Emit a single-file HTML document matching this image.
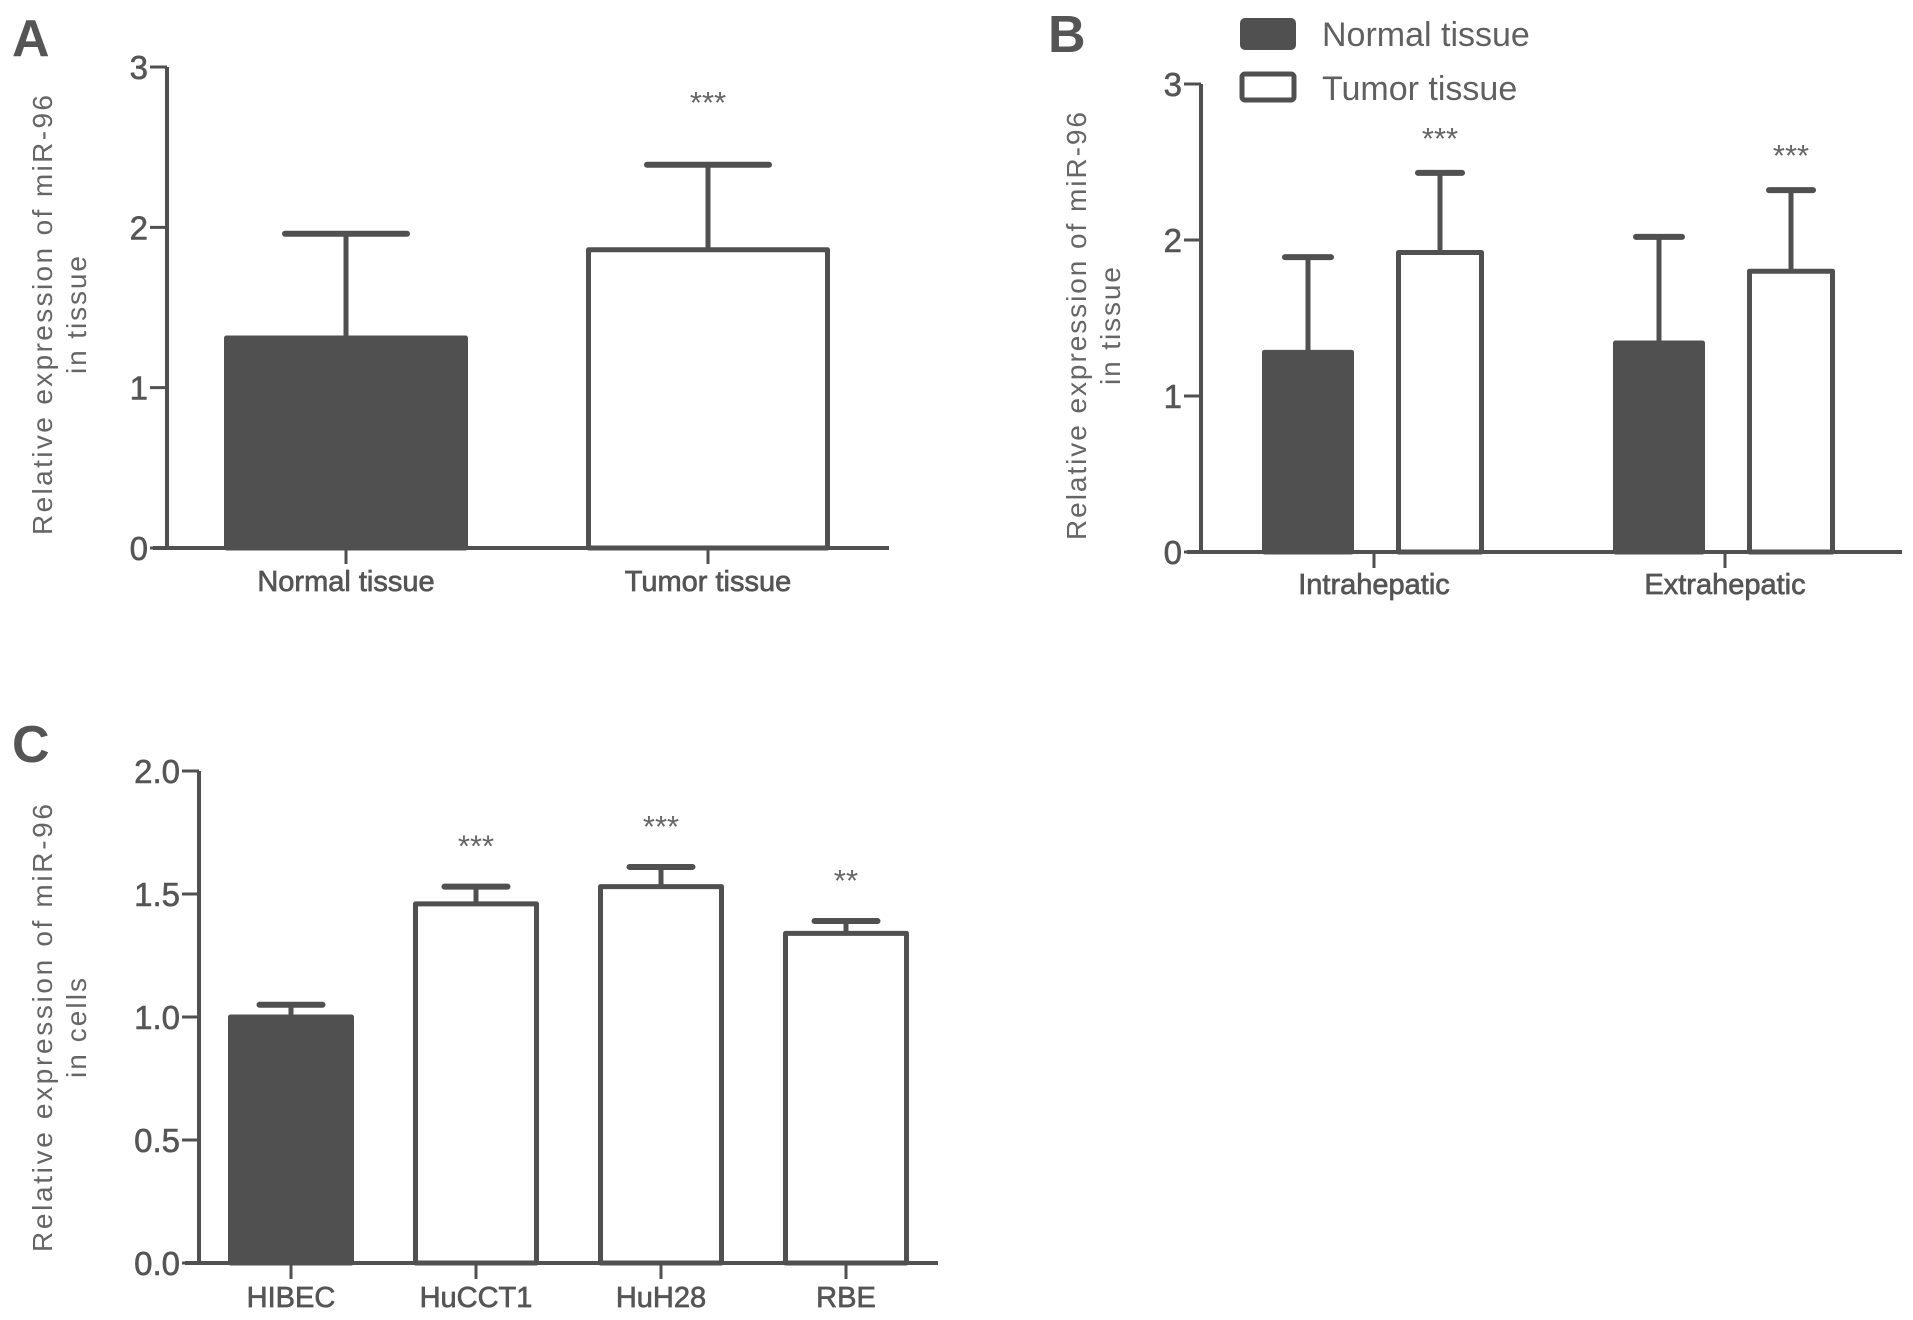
<!DOCTYPE html>
<html><head><meta charset="utf-8"><style>
html,body{margin:0;padding:0;background:#fff;}
svg{display:block;font-family:"Liberation Sans",sans-serif;}
</style></head><body>
<svg id="fig" width="1913" height="1320" viewBox="0 0 1913 1320" xmlns="http://www.w3.org/2000/svg">
<rect width="1913" height="1320" fill="#fff"/>
<text x="12" y="56" font-size="52" font-weight="bold" fill="#555">A</text>
<text x="1048" y="52" font-size="52" font-weight="bold" fill="#555">B</text>
<text x="12" y="762" font-size="52" font-weight="bold" fill="#555">C</text>
<g>
<rect x="1242" y="20" width="52" height="28" rx="3" fill="#505050" stroke="#505050" stroke-width="4"/>
<text x="1322" y="46" font-size="34" fill="#606060">Normal tissue</text>
<rect x="1242" y="74" width="52" height="26" rx="3" fill="#fff" stroke="#505050" stroke-width="5"/>
<text x="1322" y="100" font-size="34" fill="#606060">Tumor tissue</text>
</g>
<g id="pa"></g>
<g id="pb"></g>
<g id="pc"></g>
</svg>
<script>
// Panel A data
const aCategories = ["Normal tissue", "Tumor tissue"];
const aValues = [1.31, 1.86];
const aErrors = [0.65, 0.53];
const aStars = ["", "***"];
const aTicks = ["0", "1", "2", "3"];
const aTickValues = [0, 1, 2, 3];
// Panel B data
const bCategories = ["Intrahepatic", "Extrahepatic"];
const bNormal = [1.28, 1.34];
const bNormalErr = [0.61, 0.68];
const bTumor = [1.92, 1.80];
const bTumorErr = [0.51, 0.52];
const bStars = ["***", "***"];
const bTicks = ["0", "1", "2", "3"];
const bTickValues = [0, 1, 2, 3];
// Panel C data
const cCategories = ["HIBEC", "HuCCT1", "HuH28", "RBE"];
const cValues = [1.00, 1.46, 1.53, 1.34];
const cErrors = [0.05, 0.07, 0.08, 0.05];
const cStars = ["", "***", "***", "**"];
const cTicks = ["0.0", "0.5", "1.0", "1.5", "2.0"];
const cTickValues = [0, 0.5, 1.0, 1.5, 2.0];

const NS = "http://www.w3.org/2000/svg";
const C = "#505050";
function mk(parent, tag, attrs, txt){
  const e = document.createElementNS(NS, tag);
  for (const k in attrs) e.setAttribute(k, attrs[k]);
  if (txt !== undefined) e.textContent = txt;
  parent.appendChild(e);
  return e;
}
function axes(g, o, ticks, tickVals, title1, title2, cats, tickXs){
  const y = v => o.y0 - (v - o.vmin) / (o.vmax - o.vmin) * (o.y0 - o.y1);
  const yl = mk(g, "line", {x1:o.ax, y1:o.y1, x2:o.ax, y2:o.y0, stroke:C, "stroke-width":4});
  
  
  const xl = mk(g, "line", {x1:o.xs, y1:o.y0, x2:o.xe, y2:o.y0, stroke:C, "stroke-width":4});
  
  
  tickVals.forEach((v, i) => {
    const t = mk(g, "line", {x1:o.ax - 17, y1:y(v), x2:o.ax, y2:y(v), stroke:C, "stroke-width":3});
    
    
    const tl = mk(g, "text", {x:o.ax - 19, y:y(v) + 12, "font-size":33, fill:"#555", stroke:"#555", "stroke-width":0.6, "text-anchor":"end"}, ticks[i]);
    
    
  });
  cats.forEach((c, i) => {
    const t = mk(g, "line", {x1:tickXs[i], y1:o.y0, x2:tickXs[i], y2:o.y0 + 16, stroke:C, "stroke-width":3});
    
    
    const tl = mk(g, "text", {x:tickXs[i], y:o.labY, "font-size":29, fill:"#555", stroke:"#555", "stroke-width":0.7, "text-anchor":"middle"}, c);
    
    
  });
  const t1 = mk(g, "text", {transform:`translate(${o.t1x},${o.tcy}) rotate(-90)`, "text-anchor":"middle", "font-size":28, fill:"#666", textLength:o.tlen, lengthAdjust:"spacing"}, title1);
  
  
  const t2 = mk(g, "text", {transform:`translate(${o.t2x},${o.tcy}) rotate(-90)`, "text-anchor":"middle", "font-size":28, fill:"#666", textLength:o.tlen2, lengthAdjust:"spacing"}, title2);
  
  
  return y;
}
function bar(g, y, o, x0, x1, v, err, dark, star, name){
  const yt = y(v), ye = y(v + err), cx = (x0 + x1) / 2, cw = (x1 - x0) * 0.25;
  const wl = mk(g, "line", {x1:cx, y1:yt, x2:cx, y2:ye, stroke:C, "stroke-width":5});
  
  
  const cap = mk(g, "line", {x1:cx - cw, y1:ye, x2:cx + cw, y2:ye, stroke:C, "stroke-width":6, "stroke-linecap":"round"});
  
  
  const r = mk(g, "rect", {x:x0 + 2.5, y:yt, width:x1 - x0 - 5, height:o.y0 - yt, fill:dark ? C : "#fff", stroke:C, "stroke-width":5, "stroke-linejoin":"round"});
  
  
  if (star) {
    const s = mk(g, "text", {x:cx, y:ye - o.starOff, "font-size":31, fill:"#666", "text-anchor":"middle"}, star);
    
    
  }
}
// Panel A
(function(){
  const g = document.getElementById("pa");
  const o = {ax:167, y0:548, y1:67, vmin:0, vmax:3, xs:153, xe:889, labY:591, t1x:52, t2x:86, tcy:315, tlen:440, tlen2:118, starOff:52};
  const centers = [346, 708], w = 244;
  const y = axes(g, o, aTicks, aTickValues, "Relative expression of miR-96", "in tissue", aCategories, centers);
  aValues.forEach((v, i) => bar(g, y, o, centers[i] - w/2, centers[i] + w/2, v, aErrors[i], i === 0, aStars[i], "bar-" + (i === 0 ? "normal" : "tumor")));
})();
// Panel B
(function(){
  const g = document.getElementById("pb");
  const o = {ax:1201, y0:552, y1:84, vmin:0, vmax:3, xs:1187, xe:1902, labY:594, t1x:1086, t2x:1120, tcy:326, tlen:428, tlen2:118, starOff:24};
  const centers = [1374, 1725], w = 92, off = 66;
  const y = axes(g, o, bTicks, bTickValues, "Relative expression of miR-96", "in tissue", bCategories, centers);
  bCategories.forEach((c, i) => {
    bar(g, y, o, centers[i] - off - w/2, centers[i] - off + w/2, bNormal[i], bNormalErr[i], true, "", "bar-normal-" + c.toLowerCase());
    bar(g, y, o, centers[i] + off - w/2 + 2, centers[i] + off + w/2 - 2, bTumor[i], bTumorErr[i], false, bStars[i], "bar-tumor-" + c.toLowerCase());
  });
})();
// Panel C
(function(){
  const g = document.getElementById("pc");
  const o = {ax:199, y0:1263, y1:771, vmin:0, vmax:2, xs:185, xe:938, labY:1307, t1x:52, t2x:86, tcy:1028, tlen:448, tlen2:100, starOff:30};
  const centers = [291, 476, 661, 846], w = 126;
  const y = axes(g, o, cTicks, cTickValues, "Relative expression of miR-96", "in cells", cCategories, centers);
  cValues.forEach((v, i) => bar(g, y, o, centers[i] - w/2, centers[i] + w/2, v, cErrors[i], i === 0, cStars[i], "bar-" + cCategories[i].toLowerCase()));
})();
</script>
</body></html>
